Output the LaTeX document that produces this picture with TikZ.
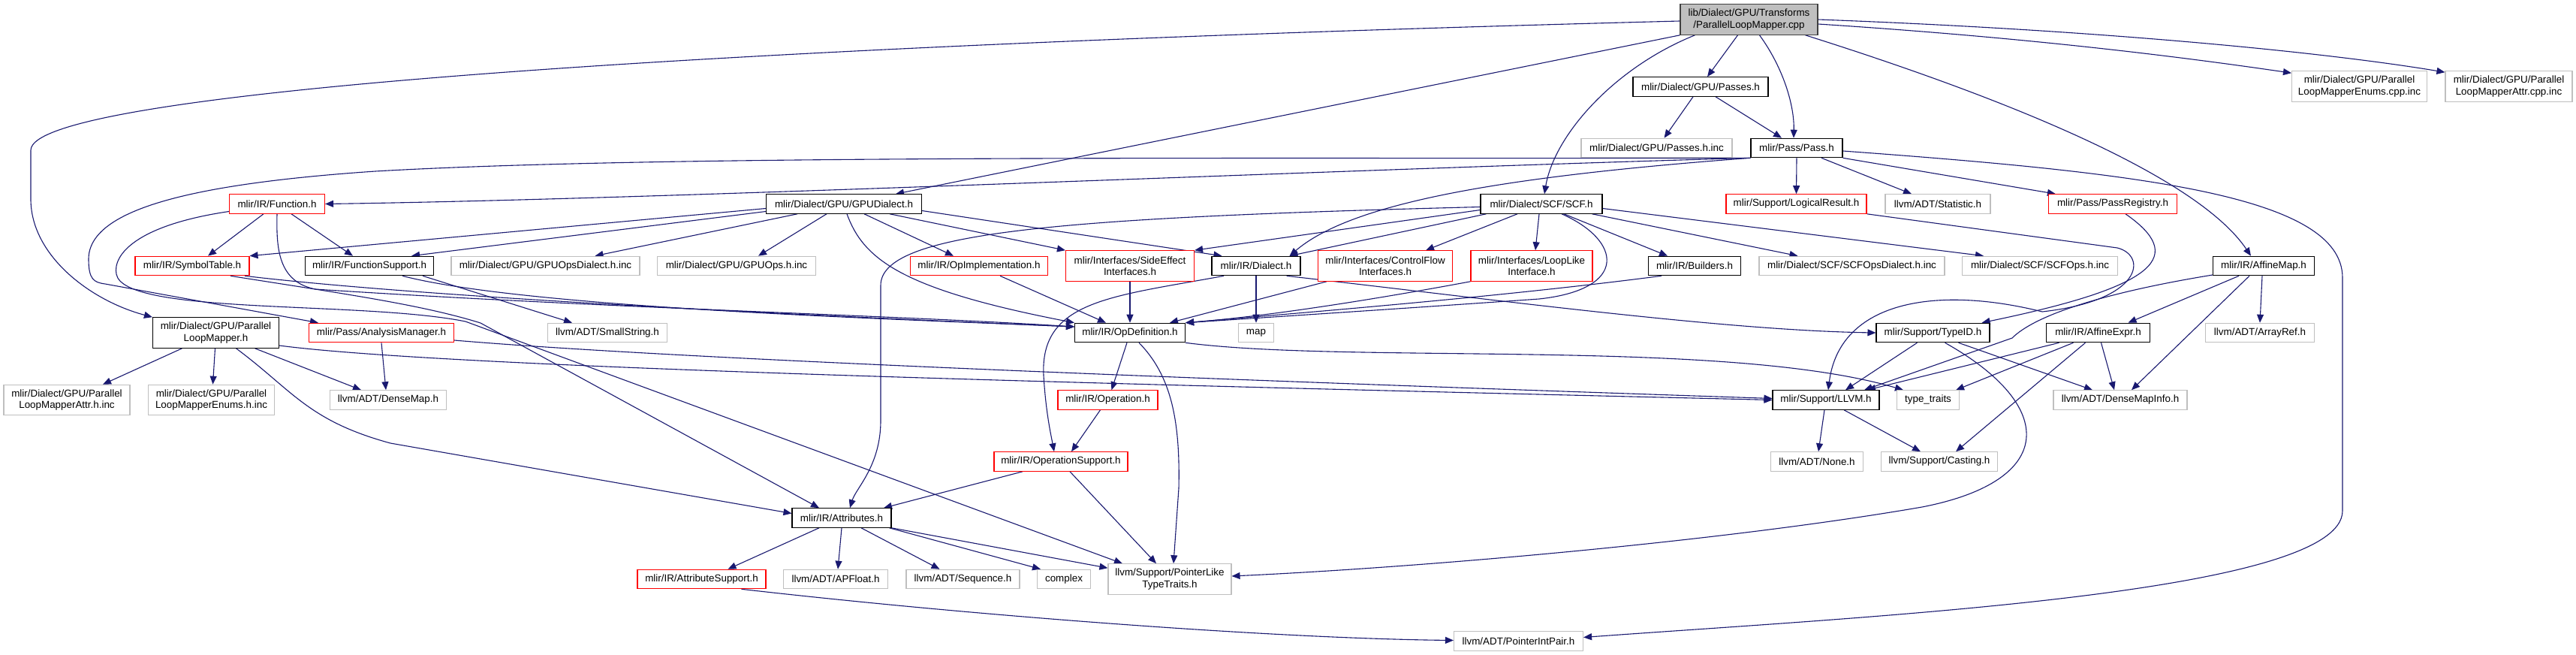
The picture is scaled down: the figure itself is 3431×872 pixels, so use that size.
\documentclass[tikz,border=0pt]{standalone}
\usepackage{fontspec}
\setmainfont{Liberation Sans}
\usetikzlibrary{arrows.meta}
\pgfdeclarelayer{bg}
\pgfsetlayers{bg,main}
\definecolor{incblue}{RGB}{25,25,112}
\definecolor{extgray}{RGB}{191,191,191}
\tikzset{
  hdr/.style={draw=black, fill=white, line width=1.1pt, inner sep=0pt,
    minimum height=25.5pt, align=center, font=\fontsize{13.4}{15.5}\selectfont},
  hdrtrunc/.style={hdr, draw=red},
  hdrext/.style={hdr, draw=extgray},
  hdrroot/.style={hdr, draw=black!75, fill=extgray},
  twoline/.style={minimum height=40.5pt},
  inc/.style={draw=incblue, line width=1.1pt, -{Triangle[length=11pt,width=9pt]}},
}
\begin{document}
\begin{tikzpicture}[x=1pt,y=-1pt]
\useasboundingbox (0,0) rectangle (3431,872);

% top rows
\node[hdrroot, twoline, minimum width=183pt] (root) at (2329.5,26) {lib/Dialect/GPU/Transforms\\/ParallelLoopMapper.cpp};
\node[hdr, minimum width=180pt] (passes) at (2265,115.5) {mlir/Dialect/GPU/Passes.h};
\node[hdrext, twoline, minimum width=180pt] (ecpp) at (3142.5,115) {mlir/Dialect/GPU/Parallel\\LoopMapperEnums.cpp.inc};
\node[hdrext, twoline, minimum width=169pt] (acpp) at (3341.5,115) {mlir/Dialect/GPU/Parallel\\LoopMapperAttr.cpp.inc};
\node[hdrext, minimum width=201pt] (passesinc) at (2206.5,197) {mlir/Dialect/GPU/Passes.h.inc};
\node[hdr, minimum width=122pt] (pass) at (2393,197) {mlir/Pass/Pass.h};
\node[hdrtrunc, minimum width=127pt] (func) at (369,271.5) {mlir/IR/Function.h};
\node[hdr, minimum width=207pt] (gpud) at (1124,271.5) {mlir/Dialect/GPU/GPUDialect.h};
\node[hdr, minimum width=162pt] (scf) at (2053,271.5) {mlir/Dialect/SCF/SCF.h};
\node[hdrtrunc, minimum width=187pt] (logres) at (2392.5,271.5) {mlir/Support/LogicalResult.h};
\node[hdrext, minimum width=140pt] (stat) at (2581,271.5) {llvm/ADT/Statistic.h};
\node[hdrtrunc, minimum width=171pt] (passreg) at (2814,271.5) {mlir/Pass/PassRegistry.h};

% middle row
\node[hdrtrunc, minimum width=152pt] (symtab) at (256,354) {mlir/IR/SymbolTable.h};
\node[hdr, minimum width=171pt] (funcsupp) at (492,354) {mlir/IR/FunctionSupport.h};
\node[hdrext, minimum width=251pt] (gpuod) at (726.5,354) {mlir/Dialect/GPU/GPUOpsDialect.h.inc};
\node[hdrext, minimum width=211pt] (gpuops) at (981,354) {mlir/Dialect/GPU/GPUOps.h.inc};
\node[hdrtrunc, minimum width=183pt] (opimpl) at (1304,354) {mlir/IR/OpImplementation.h};
\node[hdrtrunc, twoline, minimum width=171pt] (sideeff) at (1505,354) {mlir/Interfaces/SideEffect\\Interfaces.h};
\node[hdr, minimum width=118pt] (dialect) at (1673,354) {mlir/IR/Dialect.h};
\node[hdrtrunc, twoline, minimum width=179pt] (cfi) at (1845,354) {mlir/Interfaces/ControlFlow\\Interfaces.h};
\node[hdrtrunc, twoline, minimum width=162pt] (loop) at (2040,354) {mlir/Interfaces/LoopLike\\Interface.h};
\node[hdr, minimum width=123pt] (builders) at (2257,354) {mlir/IR/Builders.h};
\node[hdrext, minimum width=247pt] (scfd) at (2466.5,354) {mlir/Dialect/SCF/SCFOpsDialect.h.inc};
\node[hdrext, minimum width=207pt] (scfops) at (2717,354) {mlir/Dialect/SCF/SCFOps.h.inc};
\node[hdr, minimum width=135pt] (affmap) at (3015,354) {mlir/IR/AffineMap.h};

\node[hdr, twoline, minimum width=168pt] (plmh) at (287.5,443) {mlir/Dialect/GPU/Parallel\\LoopMapper.h};
\node[hdrtrunc, minimum width=193pt] (am) at (508,443) {mlir/Pass/AnalysisManager.h};
\node[hdrext, minimum width=159pt] (smallstr) at (809,443) {llvm/ADT/SmallString.h};
\node[hdr, minimum width=147pt] (opdef) at (1505,443) {mlir/IR/OpDefinition.h};
\node[hdrext, minimum width=47pt] (map) at (1673,443) {map};
\node[hdr, minimum width=151pt] (typeid) at (2574.5,443) {mlir/Support/TypeID.h};
\node[hdr, minimum width=138pt] (affexpr) at (2794.5,443) {mlir/IR/AffineExpr.h};
\node[hdrext, minimum width=145pt] (arrayref) at (3010,443) {llvm/ADT/ArrayRef.h};

% lower rows
\node[hdrext, twoline, minimum width=168pt] (ahinc) at (89,532.5) {mlir/Dialect/GPU/Parallel\\LoopMapperAttr.h.inc};
\node[hdrext, twoline, minimum width=168pt] (ehinc) at (281.5,532.5) {mlir/Dialect/GPU/Parallel\\LoopMapperEnums.h.inc};
\node[hdrext, minimum width=155pt] (dmap) at (517,532.5) {llvm/ADT/DenseMap.h};
\node[hdrtrunc, minimum width=133pt] (operation) at (1475.5,532.5) {mlir/IR/Operation.h};
\node[hdr, minimum width=142pt] (llvm) at (2432,532.5) {mlir/Support/LLVM.h};
\node[hdrext, minimum width=83pt] (tt) at (2568,532.5) {type\_traits};
\node[hdrext, minimum width=178pt] (dmi) at (2824,532.5) {llvm/ADT/DenseMapInfo.h};
\node[hdrtrunc, minimum width=178pt] (opsup) at (1413,614.5) {mlir/IR/OperationSupport.h};
\node[hdrext, minimum width=123pt] (none) at (2420,614.5) {llvm/ADT/None.h};
\node[hdrext, minimum width=155pt] (casting) at (2583,614.5) {llvm/Support/Casting.h};
\node[hdr, minimum width=132pt] (attr) at (1121,689.5) {mlir/IR/Attributes.h};
\node[hdrtrunc, minimum width=171pt] (attrsup) at (934.5,771) {mlir/IR/AttributeSupport.h};
\node[hdrext, minimum width=139pt] (apf) at (1113,771) {llvm/ADT/APFloat.h};
\node[hdrext, minimum width=151pt] (seq) at (1282.5,771) {llvm/ADT/Sequence.h};
\node[hdrext, minimum width=71pt] (cplx) at (1417,771) {complex};
\node[hdrext, twoline, minimum width=164pt] (plt) at (1558,771) {llvm/Support/PointerLike\\TypeTraits.h};
\node[hdrext, minimum width=172pt] (pip) at (2022.5,853.5) {llvm/ADT/PointerIntPair.h};

\begin{pgfonlayer}{bg}
\fill[white] (0,0) rectangle (3431,872);
% from the .cpp
\draw[inc] ([yshift=-2pt]root.west) .. controls (1000,60) and (41,120) .. (41,200) -- (41,265) .. controls (41,340) and (120,400) .. (plmh.north west);
\draw[inc] (root.south west) -- ([xshift=-35pt]gpud.north east);
\draw[inc] ([xshift=-72pt]root.south) .. controls (2150,90) and (2070,180) .. ([xshift=4pt]scf.north);
\draw[inc] ([xshift=-15pt]root.south) -- ([xshift=9pt]passes.north);
\draw[inc] ([xshift=14pt]root.south) .. controls (2375,90) and (2390,140) .. ([xshift=-4pt]pass.north);
\draw[inc] ([xshift=-17pt]root.south east) .. controls (2700,140) and (2930,240) .. ([xshift=-17pt]affmap.north);
\draw[inc] ([yshift=-6pt]root.east) .. controls (2700,50) and (2900,75) .. ([yshift=-3pt]ecpp.north west);
\draw[inc] (root.east) .. controls (2800,40) and (3100,70) .. ([yshift=-2pt]acpp.north west);
% Passes.h, Pass.h
\draw[inc] ([xshift=-10pt]passes.south) -- ([xshift=10pt]passesinc.north);
\draw[inc] ([xshift=20pt]passes.south) -- ([xshift=-20pt]pass.north);
\draw[inc] (pass.south) -- (logres.north);
\draw[inc] ([xshift=33pt]pass.south) -- ([xshift=-35pt]stat.north);
\draw[inc] (pass.south east) -- ([xshift=10pt]passreg.north west);
\draw[inc] ([yshift=-4pt]pass.east) .. controls (2850,230) and (3120,260) .. (3120,370) -- (3120,680) .. controls (3120,790) and (2500,820) .. ([yshift=5pt]pip.east);
\draw[inc] (pass.south west) .. controls (1800,225) and (900,265) .. (func.east);
\draw[inc] (pass.south west) .. controls (1700,212) and (900,205) .. (500,228) .. controls (250,245) and (118,280) .. (118,345) .. controls (118,372) and (125,376) .. (140,378) -- ([xshift=13pt]am.north west);
\draw[inc] (pass.south west) .. controls (2000,235) and (1800,270) .. ([xshift=-15pt]dialect.north east);
% SCF.h
\draw[inc] ([xshift=-32pt]scf.south) -- ([xshift=54pt]cfi.north);
\draw[inc] ([xshift=-3pt]scf.south) -- ([xshift=5pt]loop.north);
\draw[inc] ([xshift=30pt]scf.south) -- ([xshift=-36pt]builders.north);
\draw[inc] ([xshift=-14pt]scf.south east) -- ([xshift=-72pt]scfd.north);
\draw[inc] ([yshift=-6pt]scf.east) -- ([xshift=-75pt]scfops.north);
\draw[inc] ([xshift=27pt]scf.south) .. controls (2160,320) and (2170,385) .. (2050,398) .. controls (1850,412) and (1650,425) .. (opdef.north east);
\draw[inc] ([xshift=8pt]scf.south west) -- ([xshift=-15pt]dialect.north east);
\draw[inc] ([yshift=-8pt]scf.west) -- (sideeff.north east);
\draw[inc] ([yshift=-4pt]scf.west) .. controls (1400,290) and (1173,310) .. (1173,380) -- (1173,560) .. controls (1173,620) and (1140,650) .. ([xshift=11pt]attr.north);
% GPUDialect.h
\draw[inc] ([yshift=-6pt]gpud.west) -- (symtab.north east);
\draw[inc] ([yshift=-10pt]gpud.west) -- ([xshift=-30pt]funcsupp.north east);
\draw[inc] ([xshift=-62pt]gpud.south) -- ([xshift=66pt]gpuod.north);
\draw[inc] ([xshift=-23pt]gpud.south) -- ([xshift=29pt]gpuops.north);
\draw[inc] ([xshift=4pt]gpud.south) .. controls (1150,345) and (1200,385) .. (opdef.north west);
\draw[inc] ([xshift=27pt]gpud.south) -- ([xshift=-34pt]opimpl.north);
\draw[inc] ([xshift=-43pt]gpud.south east) -- (sideeff.north west);
\draw[inc] ([yshift=-9pt]gpud.east) -- ([xshift=14pt]dialect.north west);
% Function.h, SymbolTable.h, FunctionSupport.h
\draw[inc] ([xshift=-18pt]func.south) -- ([xshift=21pt]symtab.north);
\draw[inc] ([xshift=19pt]func.south) -- ([xshift=-22pt]funcsupp.north);
\draw[inc] (func.south) .. controls (368,330) and (370,375) .. (420,385) .. controls (800,410) and (1200,420) .. ([yshift=8pt]opdef.west);
\draw[inc] ([yshift=-10pt]func.west) .. controls (180,300) and (150,340) .. (155,365) .. controls (165,420) and (480,400) .. (620,428) -- ([xshift=-63pt]plt.north);
\draw[inc] ([xshift=51pt]symtab.south) .. controls (450,390) and (560,405) .. (640,430) -- ([xshift=-30pt]attr.north);
\draw[inc] ([xshift=70pt]symtab.south) .. controls (600,400) and (1200,425) .. ([yshift=8pt]opdef.west);
\draw[inc] ([xshift=44pt]funcsupp.south) .. controls (700,410) and (1200,425) .. ([yshift=8pt]opdef.west);
\draw[inc] ([xshift=-15pt]funcsupp.south east) -- ([xshift=-47pt]smallstr.north);
% ParallelLoopMapper.h, AnalysisManager.h
\draw[inc] ([xshift=-45pt]plmh.south) -- ([xshift=48pt]ahinc.north);
\draw[inc] ([xshift=-1pt]plmh.south) -- ([xshift=2pt]ehinc.north);
\draw[inc] ([xshift=52pt]plmh.south) -- ([xshift=-36pt]dmap.north);
\draw[inc] ([xshift=27pt]plmh.south) .. controls (390,520) and (410,560) .. (520,590) -- ([yshift=6pt]attr.west);
\draw[inc] ([yshift=-17pt]plmh.east) .. controls (600,490) and (1500,512) .. (llvm.west);
\draw[inc] (am.south) -- ([xshift=-3pt]dmap.north);
\draw[inc] ([yshift=-10pt]am.east) .. controls (900,478) and (1600,505) .. ([yshift=2pt]llvm.west);
% Dialect.h
\draw[inc] (dialect.south) -- (map.north);
\draw[inc] ([xshift=-43pt]dialect.south) .. controls (1480,395) and (1385,400) .. (1390,500) .. controls (1393,550) and (1400,580) .. ([xshift=-9pt]opsup.north);
\draw[inc] ([xshift=-19pt]dialect.south east) .. controls (2000,400) and (2300,440) .. (typeid.west);
% interfaces, OpDefinition.h
\draw[inc] (sideeff.south) -- (opdef.north);
\draw[inc] ([xshift=28pt]opimpl.south) -- ([xshift=-32pt]opdef.north);
\draw[inc] ([xshift=-78pt]cfi.south) -- ([xshift=53pt]opdef.north);
\draw[inc] (loop.south west) .. controls (1850,395) and (1700,420) .. (opdef.north east);
\draw[inc] ([xshift=-44pt]builders.south) .. controls (2000,395) and (1750,415) .. (opdef.north east);
\draw[inc] ([xshift=-4pt]opdef.south) -- ([xshift=5pt]operation.north);
\draw[inc] ([xshift=12pt]opdef.south) .. controls (1560,500) and (1572,560) .. (1570,650) -- ([xshift=5pt]plt.north);
\draw[inc] (opdef.south east) .. controls (1800,485) and (2300,450) .. ([xshift=-33pt]tt.north);
\draw[inc] ([xshift=-10pt]operation.south) -- ([xshift=14pt]opsup.north);
\draw[inc] ([xshift=-51pt]opsup.south) -- ([xshift=56pt]attr.north);
\draw[inc] ([xshift=12pt]opsup.south) -- ([xshift=-18pt]plt.north);
% Attributes.h
\draw[inc] ([xshift=-30pt]attr.south) -- ([xshift=35pt]attrsup.north);
\draw[inc] (attr.south) -- ([xshift=3pt]apf.north);
\draw[inc] ([xshift=26pt]attr.south) -- ([xshift=-31pt]seq.north);
\draw[inc] ([xshift=-3pt]attr.south east) -- ([xshift=-31pt]cplx.north);
\draw[inc] (attr.south east) -- ([yshift=-6pt]plt.north west);
\draw[inc] ([xshift=53pt]attrsup.south) .. controls (1300,820) and (1700,850) .. ([yshift=1pt]pip.west);
% TypeID.h, AffineExpr.h, AffineMap.h
\draw[inc] ([xshift=-21pt]typeid.south) -- ([xshift=26pt]llvm.north);
\draw[inc] ([xshift=34pt]typeid.south) -- ([xshift=-37pt]dmi.north);
\draw[inc] ([xshift=16pt]typeid.south) .. controls (2740,540) and (2740,640) .. (2560,675) .. controls (2300,720) and (1900,755) .. ([yshift=4pt]plt.east);
\draw[inc] ([xshift=-52pt]affexpr.south) -- ([xshift=55pt]llvm.north);
\draw[inc] ([xshift=-33pt]affexpr.south) -- ([xshift=37pt]tt.north);
\draw[inc] ([xshift=-17pt]affexpr.south) -- ([xshift=22pt]casting.north);
\draw[inc] ([xshift=4pt]affexpr.south) -- ([xshift=-8pt]dmi.north);
\draw[inc] ([xshift=-33pt]affmap.south) -- ([xshift=40pt]affexpr.north);
\draw[inc] ([xshift=-19pt]affmap.south) -- ([xshift=15pt]dmi.north);
\draw[inc] ([xshift=-2pt]affmap.south) -- (arrayref.north);
\draw[inc] ([yshift=-12pt]affmap.west) .. controls (2800,390) and (2710,420) .. (2680,450) -- ([xshift=51pt]llvm.north);
\draw[inc] ([xshift=17pt]passreg.south) .. controls (2910,340) and (2880,380) .. ([xshift=-11pt]typeid.north east);
\draw[inc] (logres.south east) -- (2820,330) .. controls (2860,340) and (2855,400) .. (2720,415) .. controls (2580,380) and (2450,400) .. ([xshift=3pt]llvm.north);
% LLVM.h
\draw[inc] ([xshift=-2pt]llvm.south) -- ([xshift=2pt]none.north);
\draw[inc] ([xshift=24pt]llvm.south) -- ([xshift=-25pt]casting.north);
\end{pgfonlayer}
\end{tikzpicture}
\end{document}
